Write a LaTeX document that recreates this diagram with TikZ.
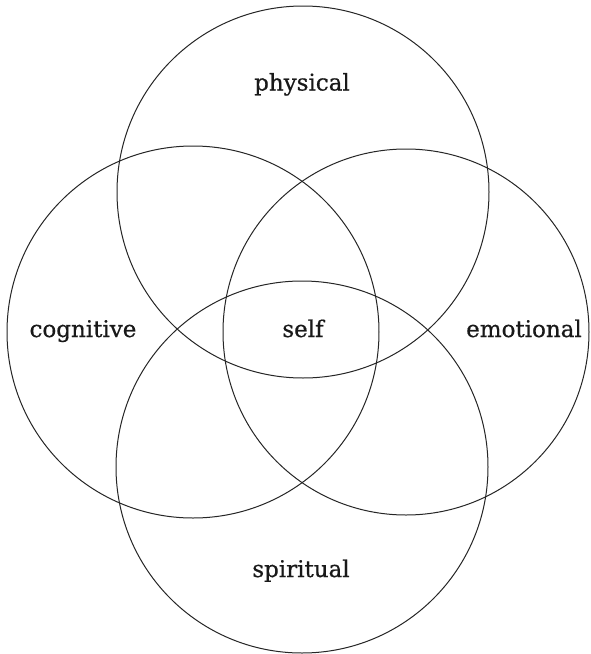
\documentclass[tikz,border=0pt]{standalone}
\usepackage{fontspec}
\setmainfont{DejaVu Serif}[FakeBold=0.6]
\begin{document}
\begin{tikzpicture}[x=1pt,y=-1pt,
  ring/.style={draw=black!85,line width=1pt},
  lbl/.style={anchor=base,inner sep=0pt,font=\fontsize{23}{26}\selectfont,text=black!90}]
\useasboundingbox[fill=white] (0,0) rectangle (590,654);
\coordinate (ctop) at (303,192);
\coordinate (cleft) at (193,332);
\coordinate (cright) at (406,332);
\coordinate (cbot) at (302,467);
\draw[ring] (ctop) circle[radius=186];
\draw[ring] (cleft) circle[radius=186];
\draw[ring] (cright) circle[radius=183];
\draw[ring] (cbot) circle[radius=186];
\node[lbl] (physical) at (302,90.5) {physical};
\node[lbl] (cognitive) at (83,337) {cognitive};
\node[lbl] (self) at (303,337) {self};
\node[lbl] (emotional) at (524,337) {emotional};
\node[lbl] (spiritual) at (301,577) {spiritual};
\end{tikzpicture}
\end{document}
